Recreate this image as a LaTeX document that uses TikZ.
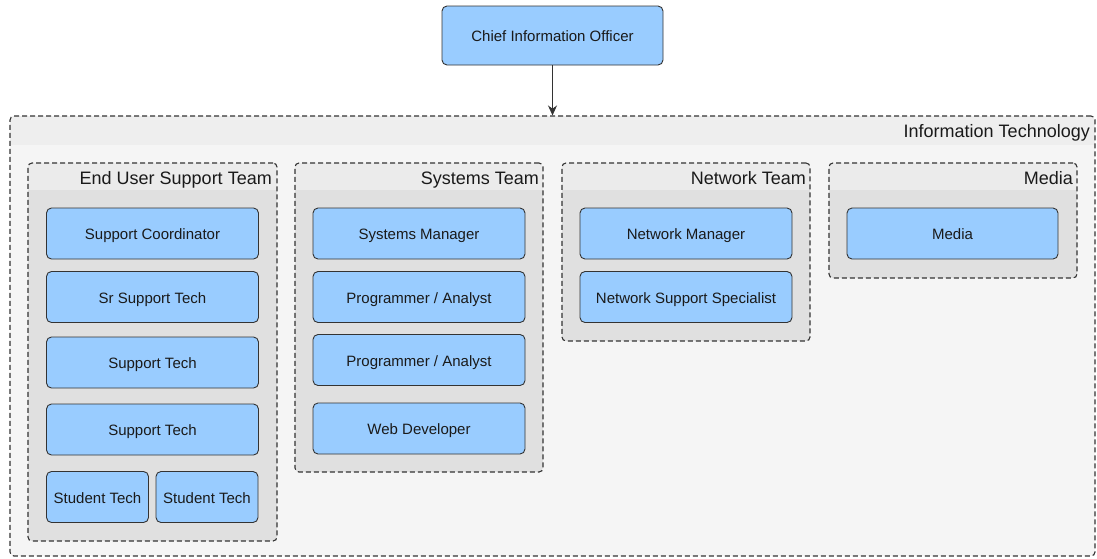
\documentclass[tikz,border=0pt]{standalone}
\usepackage{fontspec}
\setmainfont{Liberation Sans}
\usetikzlibrary{fit,arrows.meta}
\definecolor{boxblue}{HTML}{99CCFF}
\definecolor{boxline}{HTML}{333333}
\definecolor{txt}{HTML}{1A1A1A}
\definecolor{dashgray}{HTML}{333333}
\definecolor{outerbody}{HTML}{F5F5F5}
\definecolor{outerhead}{HTML}{EEEEEE}
\definecolor{innerbody}{HTML}{E0E0E0}
\definecolor{innerhead}{HTML}{EBEBEB}
\tikzset{
  contborder/.style={draw=dashgray, line width=1.1pt, dash pattern=on 5pt off 3pt, rounded corners=4, inner sep=0pt},
  staff/.style={draw=boxline, line width=0.9pt, fill=boxblue, rounded corners=5, inner sep=0pt,
    text=txt, font=\fontsize{15}{18}\selectfont, text height=12.2pt, text depth=0pt},
  headtext/.style={anchor=base east, inner sep=0pt, text=txt, font=\fontsize{18}{21}\selectfont},
}
\begin{document}
\begin{tikzpicture}[x=1pt,y=-1pt]
\useasboundingbox[fill=white] (0,0) rectangle (1097,558);
% outer container
\begin{scope}
  \clip[rounded corners=4] (10,116) rectangle (1095,556);
  \fill[outerbody] (10,116) rectangle (1095,556);
  \fill[outerhead] (10,116) rectangle (1095,145);
\end{scope}
\node[contborder, fit={(10,116) (1095,556)}] (it) {};
\node[headtext] (ittitle) at (1090,137) {Information Technology};
% team containers
\newcommand\team[7]{%
  \begin{scope}
    \clip[rounded corners=4] (#2,#3) rectangle (#4,#5);
    \fill[innerbody] (#2,#3) rectangle (#4,#5);
    \fill[innerhead] (#2,#3) rectangle (#4,190);
  \end{scope}
  \node[contborder, fit={(#2,#3) (#4,#5)}] (#1) {};
  \node[headtext] (#1t) at (#6,184) {#7};
}
\team{eus}{28}{163}{277}{541}{272}{End User Support Team}
\team{sys}{295}{163}{543}{472}{539}{Systems Team}
\team{net}{562}{163}{810}{341}{806}{Network Team}
\team{med}{829}{163}{1077}{278}{1073}{Media}
% CIO
\node[staff, minimum width=221pt, minimum height=59pt] (cio) at (552.5,35.5) {Chief Information Officer};
\draw[draw=boxline, line width=1.3pt, -{Stealth[length=10pt,width=9pt]}] (cio.south) -- (cio.south |- it.north);
% End user support
\node[staff, minimum width=212pt, minimum height=51pt] (sc) at (152.5,233.5) {Support Coordinator};
\node[staff, minimum width=212pt, minimum height=51pt] (sst) at (152.5,297) {Sr Support Tech};
\node[staff, minimum width=212pt, minimum height=51pt] (st1) at (152.5,362.5) {Support Tech};
\node[staff, minimum width=212pt, minimum height=51pt] (st2) at (152.5,429.5) {Support Tech};
\node[staff, minimum width=102pt, minimum height=51pt] (stu1) at (97.5,497) {Student Tech};
\node[staff, minimum width=102pt, minimum height=51pt] (stu2) at (207,497) {Student Tech};
% Systems
\node[staff, minimum width=212pt, minimum height=51pt] (sm) at (419,233.5) {Systems Manager};
\node[staff, minimum width=212pt, minimum height=51pt] (pa1) at (419,297) {Programmer / Analyst};
\node[staff, minimum width=212pt, minimum height=51pt] (pa2) at (419,360) {Programmer / Analyst};
\node[staff, minimum width=212pt, minimum height=51pt] (wd) at (419,428.5) {Web Developer};
% Network
\node[staff, minimum width=212pt, minimum height=51pt] (nm) at (686,233.5) {Network Manager};
\node[staff, minimum width=212pt, minimum height=51pt] (nss) at (686,297) {Network Support Specialist};
% Media
\node[staff, minimum width=211pt, minimum height=51pt] (media) at (952.5,233.5) {Media};
\end{tikzpicture}
\end{document}
